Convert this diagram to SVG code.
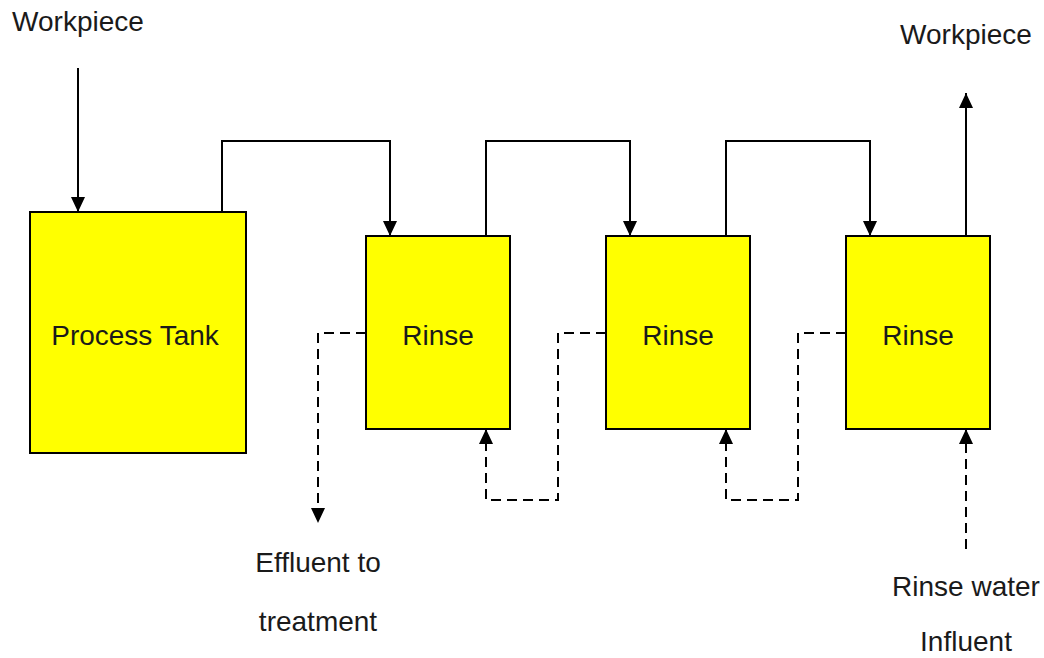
<svg xmlns="http://www.w3.org/2000/svg" width="1044" height="658" viewBox="0 0 1044 658">
  <style>
    .tank { fill: #ffff00; stroke: #000; stroke-width: 2; }
    .label { font-family: "Liberation Sans", Arial, sans-serif; font-size: 28px; fill: #1a1a1a; text-anchor: middle; }
    .flow { fill: none; stroke: #000; stroke-width: 2; }
    .dashed { stroke-dasharray: 10 6; }
  </style>
  <defs>
    <marker id="arrow" viewBox="0 0 15 14" refX="15" refY="7" markerWidth="15" markerHeight="14" markerUnits="userSpaceOnUse" orient="auto">
      <path d="M0,0 L15,7 L0,14 Z" fill="#000"/>
    </marker>
  </defs>
  <rect width="1044" height="658" fill="#fff"/>

  <g id="connectors">
    <!-- workpiece in / out -->
    <path class="flow" d="M78,68 V212" marker-end="url(#arrow)"/>
    <path class="flow" d="M966,236 V93" marker-end="url(#arrow)"/>
    <!-- workpiece transfer between tanks -->
    <path class="flow" d="M222,212 V141 H390 V236" marker-end="url(#arrow)"/>
    <path class="flow" d="M486,236 V141 H630 V236" marker-end="url(#arrow)"/>
    <path class="flow" d="M726,236 V141 H870 V236" marker-end="url(#arrow)"/>
    <!-- counter-current rinse water -->
    <path class="flow dashed" d="M366,333 H318 V523" marker-end="url(#arrow)"/>
    <path class="flow dashed" d="M606,333 H558 V500 H486 V429" marker-end="url(#arrow)"/>
    <path class="flow dashed" d="M846,333 H798 V500 H726 V429" marker-end="url(#arrow)"/>
    <path class="flow dashed" d="M966,549 V429" marker-end="url(#arrow)"/>
  </g>

  <g id="process-tank">
    <rect class="tank" x="30" y="212" width="216" height="241"/>
    <text class="label" x="135" y="345">Process Tank</text>
  </g>
  <g id="rinse-1">
    <rect class="tank" x="366" y="236" width="144" height="193"/>
    <text class="label" x="438" y="345">Rinse</text>
  </g>
  <g id="rinse-2">
    <rect class="tank" x="606" y="236" width="144" height="193"/>
    <text class="label" x="678" y="345">Rinse</text>
  </g>
  <g id="rinse-3">
    <rect class="tank" x="846" y="236" width="144" height="193"/>
    <text class="label" x="918" y="345">Rinse</text>
  </g>

  <g id="workpiece-in">
    <text class="label" x="78" y="31">Workpiece</text>
  </g>
  <g id="workpiece-out">
    <text class="label" x="966" y="44">Workpiece</text>
  </g>
  <g id="effluent">
    <text class="label" x="318" y="572">Effluent to</text>
    <text class="label" x="318" y="631">treatment</text>
  </g>
  <g id="influent">
    <text class="label" x="966" y="596">Rinse water</text>
    <text class="label" x="966" y="651">Influent</text>
  </g>
</svg>
